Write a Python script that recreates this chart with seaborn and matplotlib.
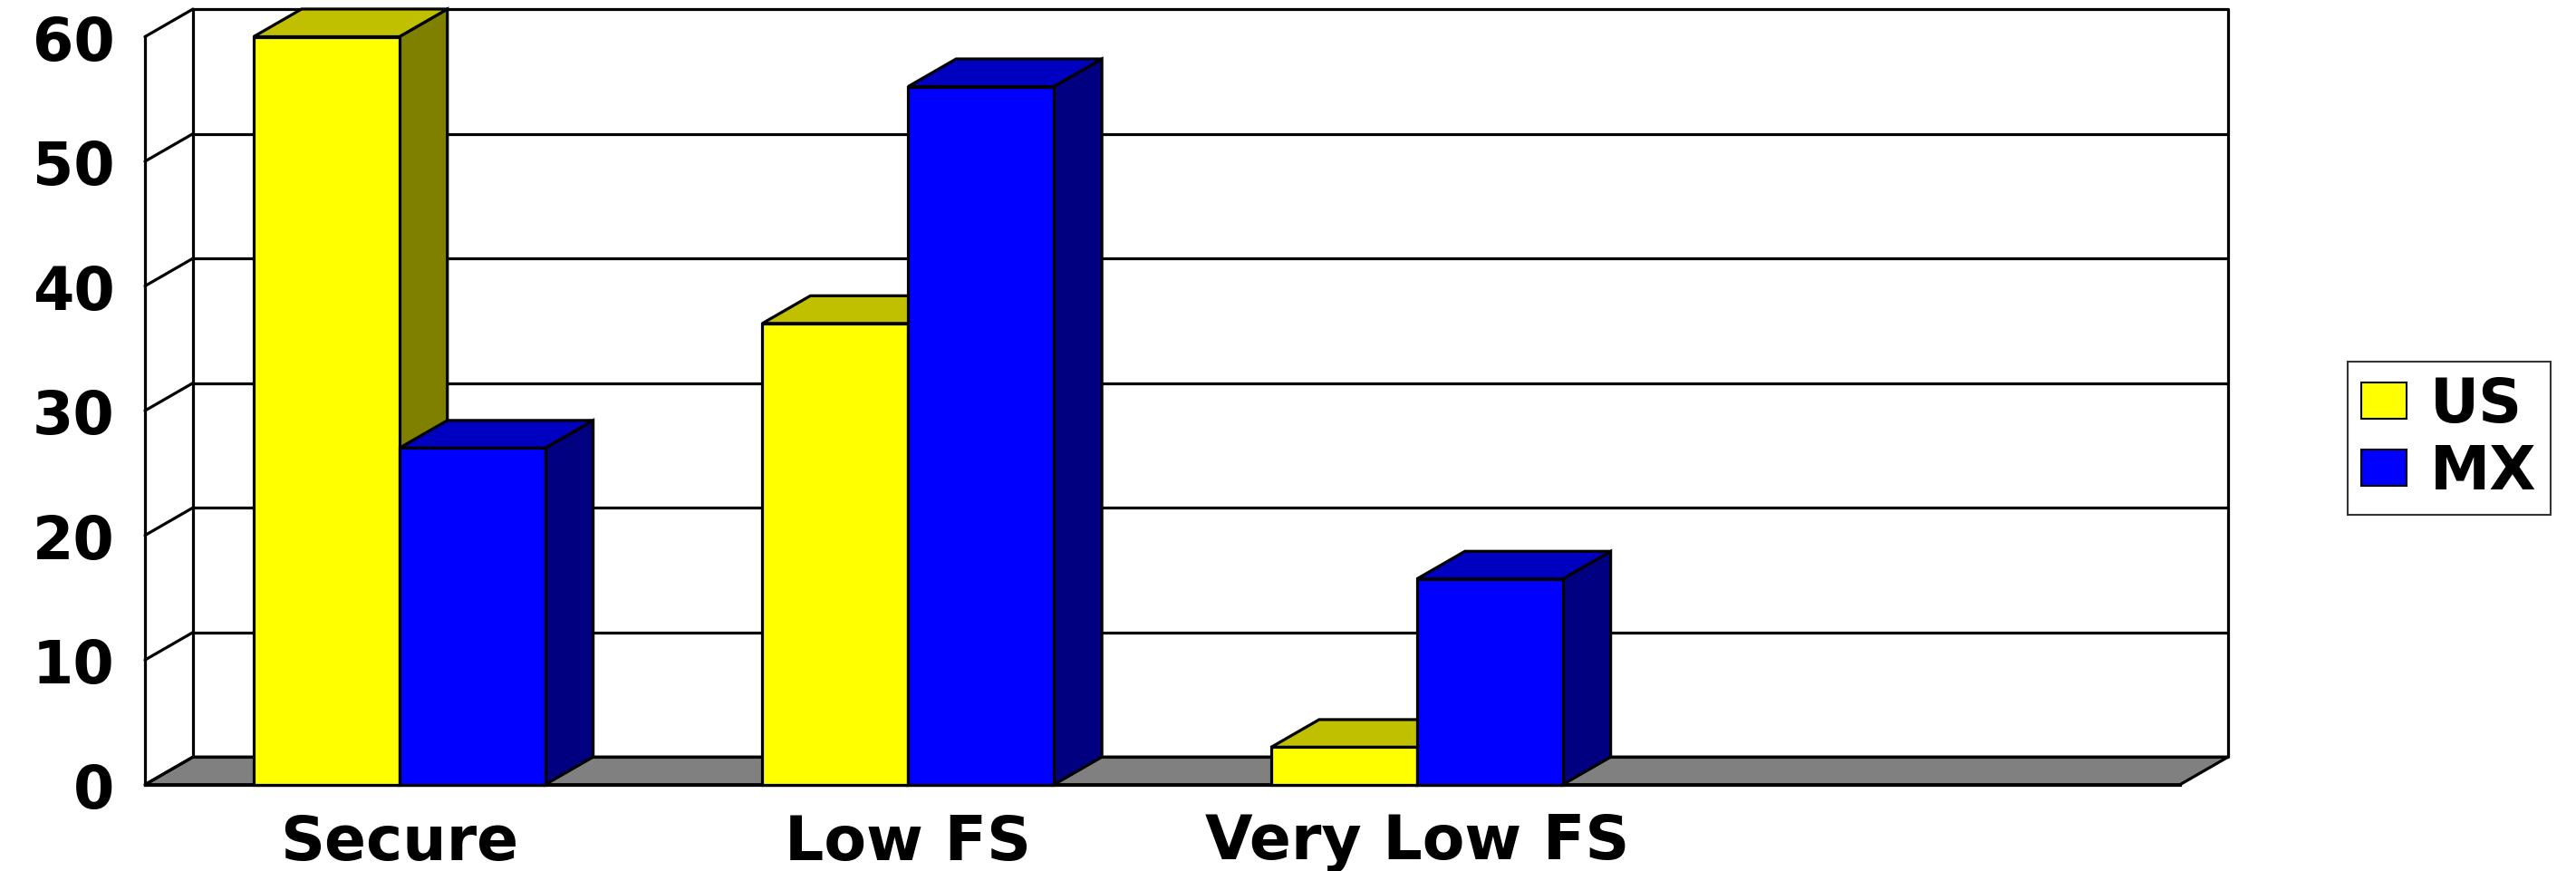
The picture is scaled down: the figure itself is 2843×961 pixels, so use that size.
import matplotlib
matplotlib.use("Agg")
import matplotlib.pyplot as plt
from matplotlib.patches import Polygon, Patch
import pandas as pd
import seaborn as sns

# ---- data -------------------------------------------------------------
categories = ["Secure", "Low FS", "Very Low FS"]
series = ["US", "MX"]
us_values = [60, 37, 3]
mx_values = [27, 56, 16.5]
y_ticks = [0, 10, 20, 30, 40, 50, 60]

front_colors = {"US": "#FFFF00", "MX": "#0000FF"}
top_colors = {"US": "#C0C000", "MX": "#0000C0"}
side_colors = {"US": "#808000", "MX": "#000080"}

df = pd.DataFrame({
    "category": categories * 2,
    "series": ["US"] * len(categories) + ["MX"] * len(categories),
    "value": us_values + mx_values,
})

# ---- figure / axes ----------------------------------------------------
sns.set_style("white")
plt.rcParams["font.family"] = ["DejaVu Sans"]
plt.rcParams["font.weight"] = "bold"
plt.rcParams["text.color"] = "black"
plt.rcParams["xtick.color"] = "black"
plt.rcParams["ytick.color"] = "black"
plt.rcParams["xtick.labelcolor"] = "black"
plt.rcParams["ytick.labelcolor"] = "black"

W, H = 2843, 962
fig = plt.figure(figsize=(W / 100, H / 100), dpi=100)
x_left_px, x_right_px = 160, 2406
y_zero_px, y_top_px = 866.7, 41.5
ax = fig.add_axes([x_left_px / W, (H - y_zero_px) / H,
                   (x_right_px - x_left_px) / W, (y_zero_px - y_top_px) / H])

n_slots = 4                       # three used categories plus one empty slot
xmin, xmax = -0.5, n_slots - 0.5
ymax = y_ticks[-1]
LW = 2.3

# depth offset of the pseudo-3D walls and columns, in data units
px_per_x = (x_right_px - x_left_px) / n_slots
px_per_y = (y_zero_px - y_top_px) / ymax
dx = 53 / px_per_x
dy = 30.5 / px_per_y

# ---- front faces of the columns via seaborn ---------------------------
sns.barplot(data=df, x="category", y="value", hue="series",
            order=categories, hue_order=series, palette=front_colors,
            width=0.573, gap=0, saturation=1, edgecolor="black",
            linewidth=LW, legend=False, ax=ax)

ax.set_xlim(xmin, xmax)
ax.set_ylim(0, ymax)

# ---- floor and back walls --------------------------------------------
floor = Polygon([(xmin, 0), (xmax, 0), (xmax + dx, dy), (xmin + dx, dy)],
                closed=True, facecolor="#808080", edgecolor="black",
                linewidth=LW, zorder=1, clip_on=False)
ax.add_patch(floor)

for v in y_ticks:
    ax.plot([xmin + dx, xmax + dx], [v + dy, v + dy], color="black",
            lw=LW, zorder=1.5, clip_on=False, solid_capstyle="butt")
    ax.plot([xmin, xmin + dx], [v, v + dy], color="black",
            lw=LW, zorder=1.5, clip_on=False)
for xx in (xmin + dx, xmax + dx):
    ax.plot([xx, xx], [dy, ymax + dy], color="black", lw=LW,
            zorder=1.5, clip_on=False)

# ---- tops and sides of the columns -----------------------------------
for i, (name, container) in enumerate(zip(series, ax.containers)):
    base_z = 3 + i
    for rect in container.patches:
        rect.set_zorder(base_z + 0.2)
        rect.set_clip_on(False)
        x0, w, h = rect.get_x(), rect.get_width(), rect.get_height()
        side = Polygon([(x0 + w, 0), (x0 + w + dx, dy),
                        (x0 + w + dx, h + dy), (x0 + w, h)],
                       closed=True, facecolor=side_colors[name],
                       edgecolor="black", linewidth=LW,
                       zorder=base_z + 0.1, clip_on=False)
        topf = Polygon([(x0, h), (x0 + dx, h + dy),
                        (x0 + w + dx, h + dy), (x0 + w, h)],
                       closed=True, facecolor=top_colors[name],
                       edgecolor="black", linewidth=LW,
                       zorder=base_z + 0.1, clip_on=False)
        ax.add_patch(side)
        ax.add_patch(topf)

# ---- axes, ticks, labels ---------------------------------------------
for s in ("top", "right"):
    ax.spines[s].set_visible(False)
for s in ("left", "bottom"):
    ax.spines[s].set_linewidth(LW)
    ax.spines[s].set_color("black")
    ax.spines[s].set_zorder(2)

ax.set_yticks(y_ticks)
ax.set_yticklabels([str(v) for v in y_ticks])
ax.tick_params(axis="y", which="major", direction="out", length=13,
               width=LW, color="black", pad=11, labelsize=47,
               labelcolor="black")

ax.set_xticks(range(len(categories)))
ax.set_xticklabels(categories)
ax.set_xticks([xmin + k for k in range(n_slots + 1)], minor=True)
ax.tick_params(axis="x", which="major", length=0, pad=22, labelsize=49,
               labelcolor="black")
ax.tick_params(axis="x", which="minor", direction="out", length=11,
               width=LW, color="black")
for lab in ax.get_xticklabels() + ax.get_yticklabels():
    lab.set_fontweight("bold")
ax.set_xlabel("")
ax.set_ylabel("")
ax.grid(False)

# ---- legend -----------------------------------------------------------
handles = [Patch(facecolor=front_colors[s], edgecolor="black", linewidth=1.5)
           for s in series]
leg = fig.legend(handles, series, loc="center left",
                 bbox_to_anchor=(2591 / W, (H - 484.5) / H),
                 prop={"size": 48, "weight": "bold"},
                 frameon=True, fancybox=False, edgecolor="black",
                 handlelength=0.75, handleheight=0.55, handletextpad=0.4,
                 labelspacing=0.12, borderpad=0.22, borderaxespad=0)
leg.get_frame().set_linewidth(1.5)
for t in leg.get_texts():
    t.set_color("black")

fig.savefig("out.png", dpi=100, facecolor="white")
